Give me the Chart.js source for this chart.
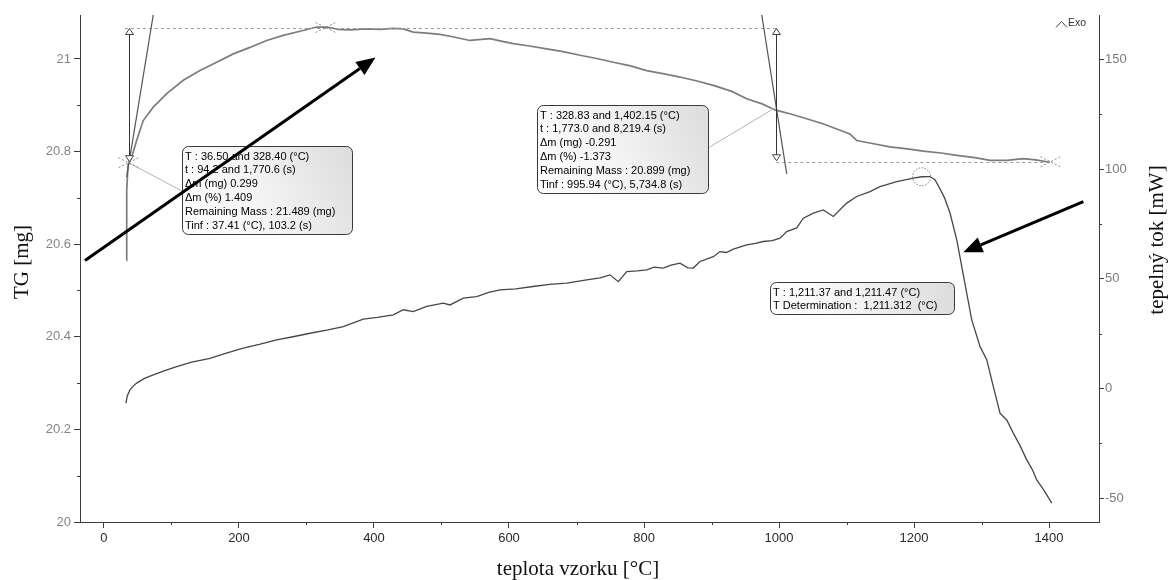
<!DOCTYPE html>
<html>
<head>
<meta charset="utf-8">
<script src="https://cdn.jsdelivr.net/npm/chart.js@4.4.1/dist/chart.umd.min.js"></script>
<style>
  html, body { margin: 0; padding: 0; background: #ffffff; }
  canvas { display: block; }
</style>
</head>
<body>
<canvas id="c" width="1168" height="580"></canvas>
<script>
// Sample temperature [°C] for the TG trace and the sample mass [mg]
const tempTG = [33.6, 33.7, 35.6, 41, 48.4, 58.2, 73, 92.9, 117.5, 142.2, 166.9, 191.6, 216.3, 241, 265.6, 290.4, 315.1, 330, 347, 364.4, 389.2, 410, 428.6, 443.4, 458.2, 478, 497.8, 520, 542.2, 571.9, 590, 606.4, 630, 655.8, 680, 705.2, 730, 754.5, 780, 803.9, 830, 853.3, 880, 902.7, 930, 952.1, 975, 994.1, 1020, 1041, 1065, 1090.4, 1105, 1115.1, 1140, 1164.4, 1190, 1213.8, 1240, 1263.3, 1290, 1312.6, 1337.3, 1361.9, 1380, 1401.5];
const massTG = [20.565, 20.716, 20.770, 20.788, 20.824, 20.867, 20.896, 20.925, 20.954, 20.975, 20.993, 21.011, 21.025, 21.040, 21.051, 21.060, 21.069, 21.069, 21.064, 21.063, 21.065, 21.064, 21.066, 21.065, 21.058, 21.056, 21.053, 21.047, 21.040, 21.044, 21.038, 21.033, 21.028, 21.022, 21.016, 21.008, 21.001, 20.993, 20.985, 20.975, 20.968, 20.961, 20.952, 20.943, 20.930, 20.914, 20.903, 20.890, 20.880, 20.871, 20.860, 20.846, 20.838, 20.824, 20.817, 20.810, 20.806, 20.801, 20.797, 20.792, 20.787, 20.781, 20.781, 20.785, 20.782, 20.777];

// Sample temperature [°C] for the heat-flow trace and the heat flow [mW]
const tempDSC = [32.6, 34.5, 38.5, 43, 48.4, 60, 73, 90, 107.7, 130, 157, 180, 206.4, 230, 255.9, 280, 305.2, 330, 354.5, 384.1, 405, 428.6, 443.4, 458.2, 478.1, 502.7, 512.6, 532.3, 552.1, 570, 586.7, 610, 635.6, 660, 685.5, 715.1, 735, 749.6, 761.9, 774.4, 790, 804, 815, 828.6, 840, 853.3, 865, 873, 882.9, 902.7, 912.6, 922, 932.3, 952.1, 965, 976.7, 990, 1001.5, 1011.4, 1026.2, 1036, 1050.8, 1065.6, 1080.4, 1100.3, 1115.1, 1134.8, 1149.6, 1174.4, 1199, 1211.4, 1223.7, 1231, 1238.5, 1245, 1253.3, 1263.3, 1270.7, 1278.1, 1285.5, 1297.8, 1307.7, 1317.5, 1327.4, 1337.3, 1347.1, 1357, 1366.9, 1375, 1381.8, 1393, 1404];
const heatDSC = [-6.6, -3.4, -0.6, 1.0, 2.5, 4.6, 6.2, 8.2, 10.0, 12.0, 13.8, 16.0, 18.4, 20.1, 22.2, 23.6, 25.2, 26.6, 28.2, 31.6, 32.4, 33.6, 35.9, 35.1, 37.4, 38.9, 38.1, 41.2, 41.9, 43.8, 45.0, 45.4, 46.5, 47.5, 48.0, 49.5, 50.4, 51.8, 48.7, 53.3, 53.6, 54.1, 55.3, 54.9, 56.2, 57.1, 55.0, 54.9, 57.9, 60.1, 62.4, 62.0, 63.5, 65.5, 66.1, 67.0, 67.4, 68.5, 71.5, 73.2, 77.6, 79.9, 81.4, 78.4, 84.5, 87.5, 89.7, 92.0, 94.3, 95.9, 96.5, 96.6, 95.2, 91.0, 87.0, 80.0, 67.7, 55.6, 43.4, 31.3, 19.1, 13.1, 0.9, -11.2, -14.3, -20.3, -26.0, -32.5, -36.8, -41.6, -46.6, -52.2];

// Axis ticks and their labels
const xTicks = [0, 200, 400, 600, 800, 1000, 1200, 1400];
const xTickLabels = ['0', '200', '400', '600', '800', '1000', '1200', '1400'];
const xMinor = [100, 300, 500, 700, 900, 1100, 1300];
const tgTicks = [20, 20.2, 20.4, 20.6, 20.8, 21];
const tgTickLabels = ['20', '20.2', '20.4', '20.6', '20.8', '21'];
const tgMinor = [20.1, 20.3, 20.5, 20.7, 20.9];
const dscTicks = [-50, 0, 50, 100, 150];
const dscTickLabels = ['-50', '0', '50', '100', '150'];
const dscMinor = [-25, 25, 75, 125];

// Evaluation results: mass step levels and characteristic points
const stepStartT = [36.5, 995.94];        // °C, where the step arrows stand
const levelHigh = 21.068;                  // mg
const levelLowStart = 20.776;              // mg
const levelLowEnd = 20.778;                // mg
const crossT = [36.5, 328.4, 1402.15];
const crossM = [20.776, 21.068, 20.778];
const inflectionT = 995.94, inflectionM = 20.896;
const peakT = 1211.37, peakQ = 96.5;
const tangentA = [[33.6, 20.745], [73.0, 21.095]];
const tangentB = [[974.4, 21.095], [1011.4, 20.752]];

const note1 = ['T : 36.50 and 328.40 (°C)', 't : 94.2 and 1,770.6 (s)', 'Δm (mg) 0.299', 'Δm (%) 1.409', 'Remaining Mass : 21.489 (mg)', 'Tinf : 37.41 (°C), 103.2 (s)'];
const note2 = ['T : 328.83 and 1,402.15 (°C)', 't : 1,773.0 and 8,219.4 (s)', 'Δm (mg) -0.291', 'Δm (%) -1.373', 'Remaining Mass : 20.899 (mg)', 'Tinf : 995.94 (°C), 5,734.8 (s)'];
const note3 = ['T : 1,211.37 and 1,211.47 (°C)', 'T Determination :  1,211.312  (°C)'];

const SANS = '"Liberation Sans", Arial, sans-serif';
const SERIF = '"Liberation Serif", "Times New Roman", serif';

function roundBox(ctx, x, y, w, h, r) {
  ctx.beginPath();
  ctx.moveTo(x + r, y);
  ctx.lineTo(x + w - r, y);
  ctx.arcTo(x + w, y, x + w, y + r, r);
  ctx.lineTo(x + w, y + h - r);
  ctx.arcTo(x + w, y + h, x + w - r, y + h, r);
  ctx.lineTo(x + r, y + h);
  ctx.arcTo(x, y + h, x, y + h - r, r);
  ctx.lineTo(x, y + r);
  ctx.arcTo(x, y, x + r, y, r);
  ctx.closePath();
}

function noteBox(ctx, x, y, w, h, lines) {
  const g = ctx.createLinearGradient(x, y + h, x + w, y);
  g.addColorStop(0, '#ffffff');
  g.addColorStop(0.45, '#f4f4f4');
  g.addColorStop(1, '#dcdcdc');
  roundBox(ctx, x + 0.5, y + 0.5, w, h, 6);
  ctx.fillStyle = g;
  ctx.fill();
  ctx.strokeStyle = '#3a3a3a';
  ctx.lineWidth = 1;
  ctx.stroke();
  ctx.fillStyle = '#000';
  ctx.font = '11px ' + SANS;
  ctx.textAlign = 'left';
  ctx.textBaseline = 'middle';
  lines.forEach((s, i) => ctx.fillText(s, x + 3, y + 10.5 + i * 13.9));
}

function cross(ctx, cx, cy) {
  ctx.save();
  ctx.setLineDash([2, 2]);
  ctx.strokeStyle = '#8a8a8a';
  ctx.lineWidth = 1;
  ctx.beginPath();
  ctx.moveTo(cx - 10, cy - 5); ctx.lineTo(cx + 10, cy + 5);
  ctx.moveTo(cx - 10, cy + 5); ctx.lineTo(cx + 10, cy - 5);
  ctx.stroke();
  ctx.restore();
}

function hollowTri(ctx, cx, tipY, dir) {
  // dir = -1: apex points up, 1: apex points down
  ctx.beginPath();
  ctx.moveTo(cx, tipY);
  ctx.lineTo(cx - 4, tipY - dir * 6);
  ctx.lineTo(cx + 4, tipY - dir * 6);
  ctx.closePath();
  ctx.fillStyle = '#fff';
  ctx.fill();
  ctx.strokeStyle = '#444';
  ctx.lineWidth = 1;
  ctx.stroke();
}

function bigArrow(ctx, x0, y0, x1, y1) {
  const a = Math.atan2(y1 - y0, x1 - x0), L = 19, W = 8;
  const bx = x1 - L * Math.cos(a), by = y1 - L * Math.sin(a);
  ctx.strokeStyle = '#000';
  ctx.fillStyle = '#000';
  ctx.lineWidth = 3;
  ctx.lineCap = 'butt';
  ctx.beginPath(); ctx.moveTo(x0, y0); ctx.lineTo(bx, by); ctx.stroke();
  ctx.beginPath();
  ctx.moveTo(x1, y1);
  ctx.lineTo(bx + W * Math.sin(a), by - W * Math.cos(a));
  ctx.lineTo(bx - W * Math.sin(a), by + W * Math.cos(a));
  ctx.closePath();
  ctx.fill();
}

const overlay = {
  id: 'overlay',
  afterDatasetsDraw(chart) {
    const ctx = chart.ctx, a = chart.chartArea;
    const X = t => chart.scales.x.getPixelForValue(t);
    const L = v => chart.scales.y.getPixelForValue(v);
    const R = v => chart.scales.y2.getPixelForValue(v);
    ctx.save();
    ctx.beginPath(); ctx.rect(a.left, a.top, a.right - a.left, a.bottom - a.top); ctx.clip();

    // step levels (dashed)
    ctx.save();
    ctx.setLineDash([3, 3]);
    ctx.strokeStyle = '#9a9a9a';
    ctx.lineWidth = 1;
    ctx.beginPath();
    ctx.moveTo(X(31), Math.round(L(levelHigh)) + 0.5); ctx.lineTo(X(stepStartT[1]), Math.round(L(levelHigh)) + 0.5);
    ctx.moveTo(X(stepStartT[1]), Math.round(L(levelLowEnd)) + 0.5); ctx.lineTo(X(crossT[2]), Math.round(L(levelLowEnd)) + 0.5);
    ctx.stroke();
    ctx.restore();

    // tangents
    ctx.strokeStyle = '#555';
    ctx.lineWidth = 1.2;
    [tangentA, tangentB].forEach(tg => {
      ctx.beginPath();
      ctx.moveTo(X(tg[0][0]), L(tg[0][1]));
      ctx.lineTo(X(tg[1][0]), L(tg[1][1]));
      ctx.stroke();
    });

    // leader lines to the result boxes
    const b1 = { x: Math.round(X(115.1)), y: Math.round(L(20.813)), w: 170, h: 88 };
    const b2 = { x: Math.round(X(641.0)), y: Math.round(L(20.900)), w: 171, h: 88 };
    const b3 = { x: Math.round(X(986.7)), y: Math.round(R(48.6)), w: 184, h: 32 };
    ctx.strokeStyle = '#b4b4b4';
    ctx.lineWidth = 1;
    ctx.beginPath();
    ctx.moveTo(X(crossT[0]), L(crossM[0])); ctx.lineTo(b1.x, b1.y + 45);
    ctx.moveTo(X(inflectionT), L(inflectionM)); ctx.lineTo(b2.x + b2.w, b2.y + 43);
    ctx.stroke();

    // step arrows
    stepStartT.forEach((t, i) => {
      const x = Math.round(X(t)) + 0.5;
      const yTop = L(levelHigh) + 1;
      const yBot = L(i === 0 ? levelLowStart : levelLowEnd) - 1;
      ctx.strokeStyle = '#333';
      ctx.lineWidth = 1;
      ctx.beginPath(); ctx.moveTo(x, yTop); ctx.lineTo(x, yBot); ctx.stroke();
      hollowTri(ctx, x, yTop, -1);
      hollowTri(ctx, x, yBot, 1);
    });

    // characteristic points
    crossT.forEach((t, i) => cross(ctx, X(t), L(crossM[i])));
    ctx.save();
    ctx.setLineDash([1.5, 1.5]);
    ctx.strokeStyle = '#777';
    ctx.lineWidth = 1;
    ctx.beginPath(); ctx.arc(X(peakT), R(peakQ), 9, 0, Math.PI * 2); ctx.stroke();
    ctx.restore();

    noteBox(ctx, b1.x, b1.y, b1.w, b1.h, note1);
    noteBox(ctx, b2.x, b2.y, b2.w, b2.h, note2);
    noteBox(ctx, b3.x, b3.y, b3.w, b3.h, note3);
    ctx.restore();
  },
  afterDraw(chart) {
    const ctx = chart.ctx, a = chart.chartArea;
    const X = t => chart.scales.x.getPixelForValue(t);
    const L = v => chart.scales.y.getPixelForValue(v);
    const R = v => chart.scales.y2.getPixelForValue(v);
    ctx.save();

    // minor ticks
    ctx.strokeStyle = '#3c3c3c';
    ctx.lineWidth = 1;
    ctx.beginPath();
    xMinor.forEach(t => { const x = Math.round(X(t)) + 0.5; ctx.moveTo(x, a.bottom); ctx.lineTo(x, a.bottom + 3); });
    tgMinor.forEach(v => { const y = Math.round(L(v)) + 0.5; ctx.moveTo(a.left - 3, y); ctx.lineTo(a.left, y); });
    dscMinor.forEach(v => { const y = Math.round(R(v)) + 0.5; ctx.moveTo(a.right, y); ctx.lineTo(a.right + 3, y); });
    ctx.stroke();

    // exotherm direction mark
    ctx.strokeStyle = '#444';
    ctx.beginPath();
    ctx.moveTo(1056, 27.5); ctx.lineTo(1061.5, 21.5); ctx.lineTo(1067, 27.5);
    ctx.stroke();
    ctx.fillStyle = '#333';
    ctx.font = '10.5px ' + SANS;
    ctx.textAlign = 'left';
    ctx.textBaseline = 'middle';
    ctx.fillText('Exo', 1068, 23.5);

    // axis titles
    ctx.fillStyle = '#111';
    ctx.font = '21px ' + SERIF;
    ctx.textAlign = 'center';
    ctx.textBaseline = 'alphabetic';
    ctx.fillText('teplota vzorku [°C]', 578, 575);
    ctx.textBaseline = 'middle';
    ctx.save(); ctx.translate(22, 262); ctx.rotate(-Math.PI / 2); ctx.fillText('TG [mg]', 0, 0); ctx.restore();
    ctx.save(); ctx.translate(1157, 240); ctx.rotate(-Math.PI / 2); ctx.fillText('tepelný tok [mW]', 0, 0); ctx.restore();

    // pointer arrows
    bigArrow(ctx, X(-28.1), L(20.565), X(402.2), L(21.003));
    bigArrow(ctx, X(1450.8), R(85.2), X(1273), R(62.1));
    ctx.restore();
  }
};

const axisBorder = { display: true, color: '#3c3c3c', width: 1 };

new Chart(document.getElementById('c'), {
  type: 'scatter',
  data: {
    datasets: [
      {
        label: 'TG',
        data: tempTG.map((t, i) => ({ x: t, y: massTG[i] })),
        yAxisID: 'y',
        showLine: true,
        borderColor: '#7c7c7c',
        borderWidth: 1.7,
        pointRadius: 0,
        tension: 0
      },
      {
        label: 'DSC',
        data: tempDSC.map((t, i) => ({ x: t, y: heatDSC[i] })),
        yAxisID: 'y2',
        showLine: true,
        borderColor: '#474747',
        borderWidth: 1.3,
        pointRadius: 0,
        tension: 0
      }
    ]
  },
  options: {
    responsive: false,
    animation: false,
    devicePixelRatio: 1,
    layout: { padding: { top: 15, left: 0, right: 0, bottom: 0 } },
    plugins: { legend: { display: false }, tooltip: { enabled: false } },
    scales: {
      x: {
        type: 'linear',
        position: 'bottom',
        min: -35.5,
        max: 1474,
        afterBuildTicks: s => { s.ticks = xTicks.map(v => ({ value: v })); },
        afterFit: s => { s.height = 58; },
        border: axisBorder,
        grid: { display: true, drawOnChartArea: false, drawTicks: true, tickLength: 6, tickColor: '#3c3c3c' },
        ticks: { color: '#2a2a2a', font: { family: SANS, size: 13 }, padding: 3, maxRotation: 0, autoSkip: false,
                 callback: (v, i) => xTickLabels[i] }
      },
      y: {
        type: 'linear',
        position: 'left',
        min: 20,
        max: 21.095,
        afterBuildTicks: s => { s.ticks = tgTicks.map(v => ({ value: v })); },
        afterFit: s => { s.width = 80; },
        border: axisBorder,
        grid: { display: true, drawOnChartArea: false, drawTicks: true, tickLength: 6, tickColor: '#3c3c3c' },
        ticks: { color: '#858585', font: { family: SANS, size: 13 }, padding: 3, autoSkip: false,
                 callback: (v, i) => tgTickLabels[i] }
      },
      y2: {
        type: 'linear',
        position: 'right',
        min: -60.8,
        max: 170.2,
        afterBuildTicks: s => { s.ticks = dscTicks.map(v => ({ value: v })); },
        afterFit: s => { s.width = 69; },
        border: axisBorder,
        grid: { display: true, drawOnChartArea: false, drawTicks: true, tickLength: 5, tickColor: '#3c3c3c' },
        ticks: { color: '#7a7a7a', font: { family: SANS, size: 13 }, padding: 1, autoSkip: false,
                 callback: (v, i) => dscTickLabels[i] }
      }
    }
  },
  plugins: [overlay]
});
</script>
</body>
</html>
